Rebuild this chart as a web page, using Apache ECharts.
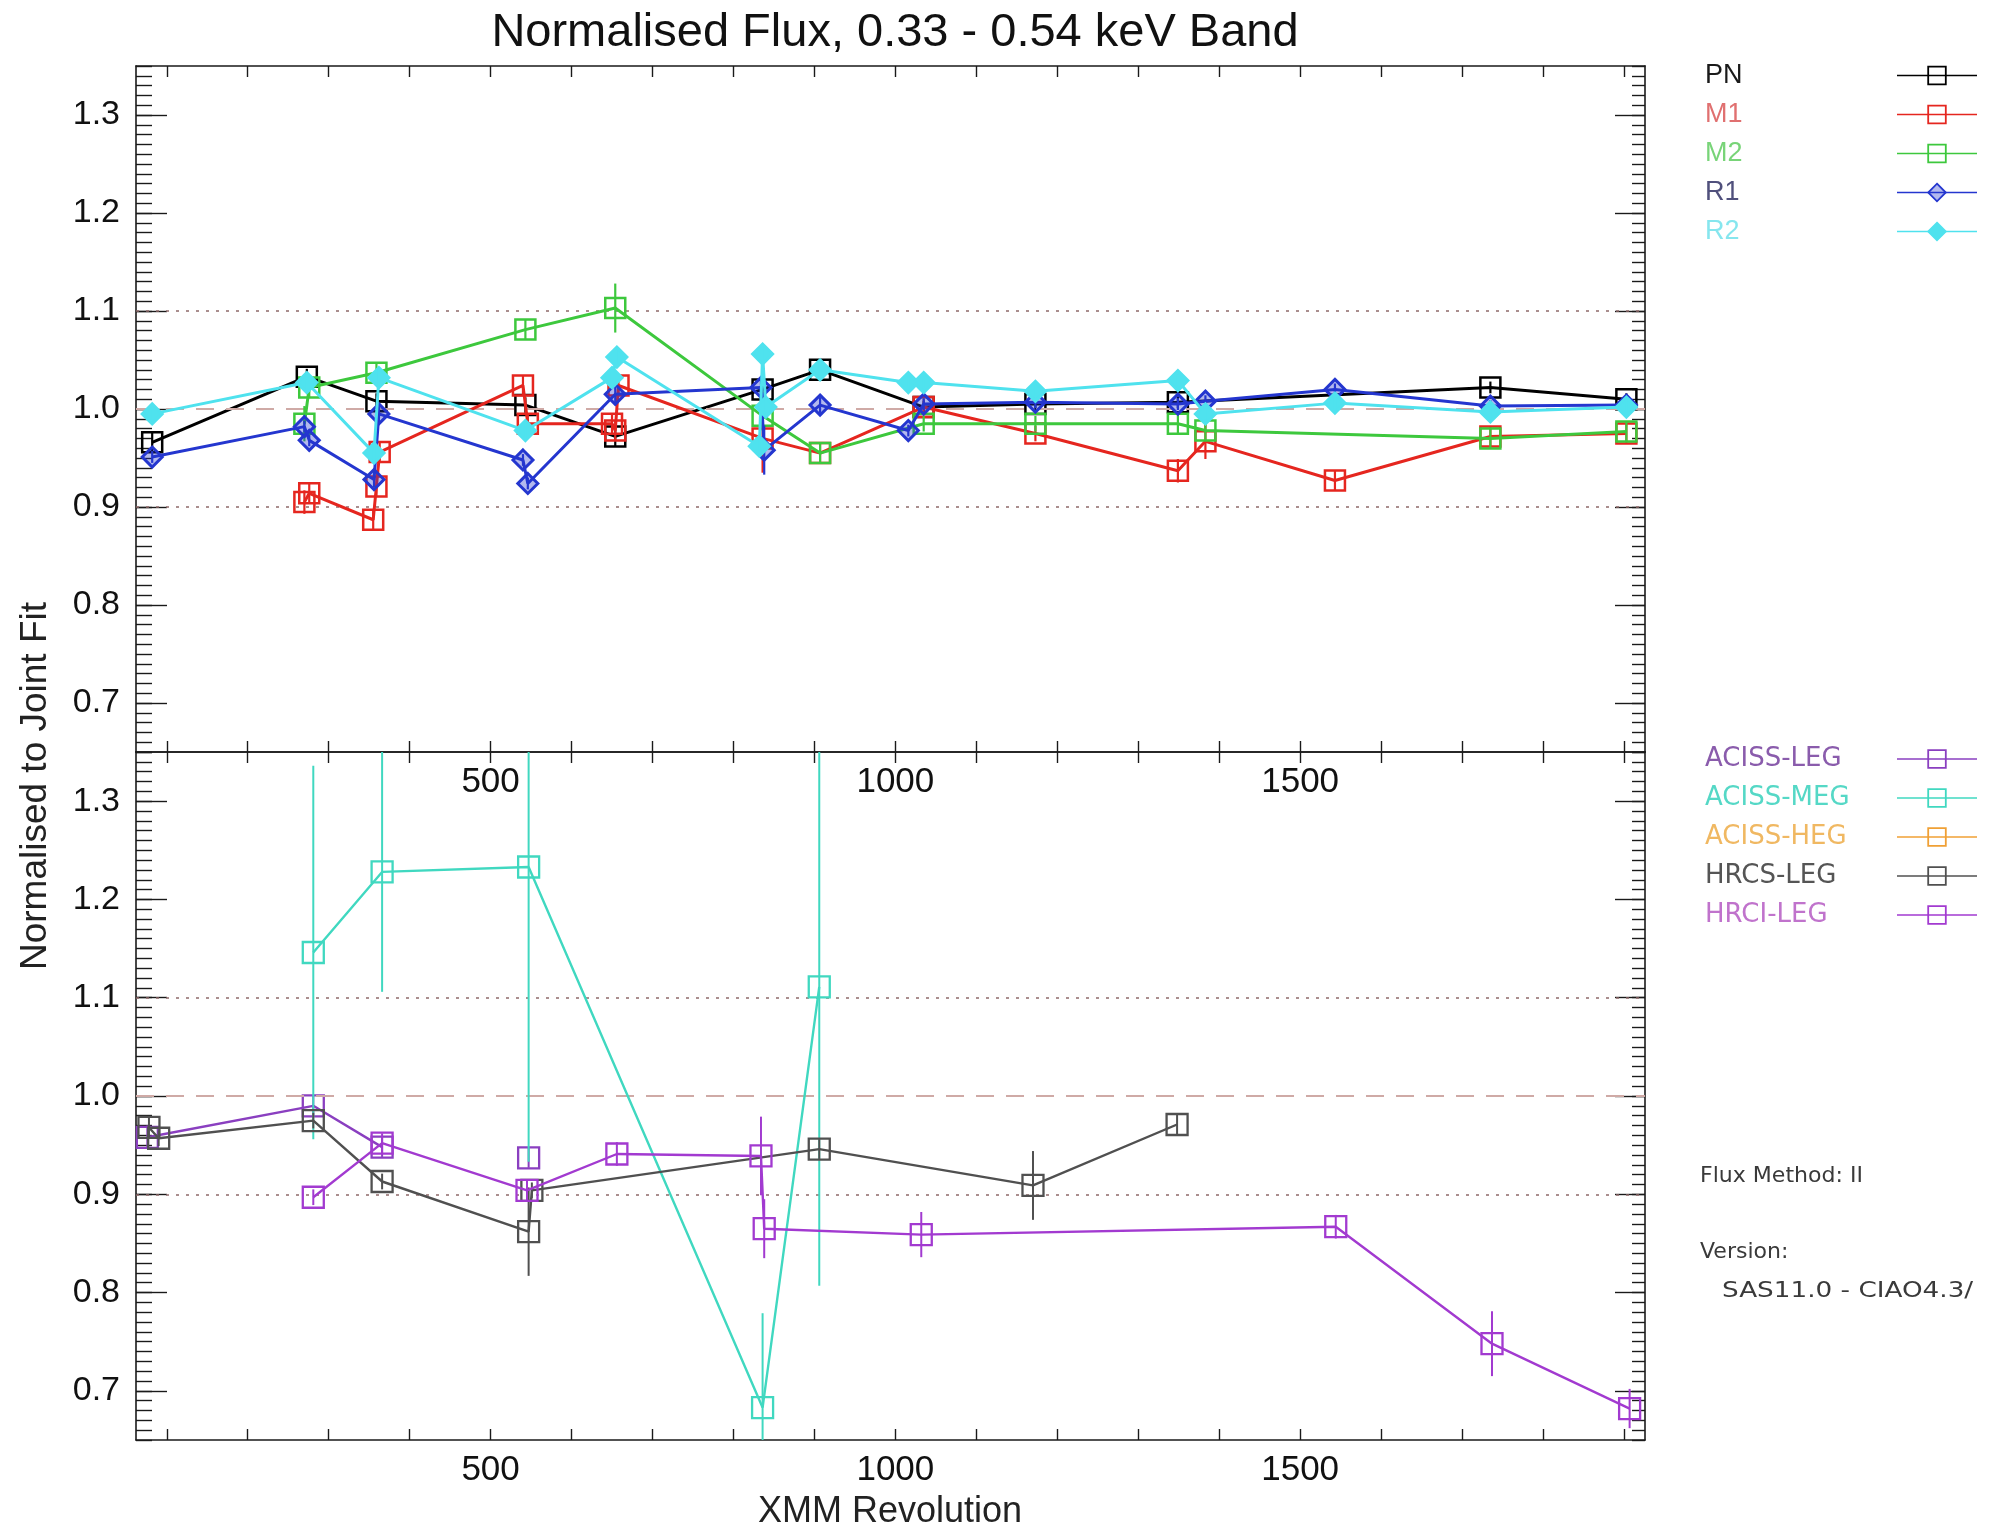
<!DOCTYPE html>
<html>
<head>
<meta charset="utf-8">
<script src="https://cdn.jsdelivr.net/npm/echarts@6/dist/echarts.min.js"></script>
<style>
  html, body { margin: 0; padding: 0; background: #ffffff; }
  #chart { width: 2009px; height: 1531px; }
</style>
</head>
<body>
<div id="chart"></div>
<script>
// Axis extents shared by both panels
const revRange = [62, 1926];
const fluxRange = [0.65, 1.35];
const xTickLabels = [500, 1000, 1500];
const yTickLabels = [0.7, 0.8, 0.9, 1.0, 1.1, 1.2, 1.3];
const refLevels = [0.9, 1.0, 1.1];

// XMM-Newton instruments (upper panel): revolution, normalised flux, 1-sigma error
const pnRev  = [82, 273, 359, 543, 654, 836, 907, 1035, 1173, 1349, 1735, 1903];
const pnFlux = [0.966, 1.033, 1.008, 1.004, 0.972, 1.020, 1.040, 1.002, 1.005, 1.007, 1.022, 1.010];
const pnErr  = [0.010, 0.008, 0.008, 0.008, 0.010, 0.010, 0.008, 0.006, 0.006, 0.006, 0.006, 0.006];

const m1Rev  = [270, 276, 355, 359, 363, 540, 546, 650, 654, 658, 836, 907, 1035, 1173, 1349, 1383, 1543, 1735, 1903];
const m1Flux = [0.905, 0.914, 0.887, 0.921, 0.956, 1.024, 0.985, 0.985, 0.978, 1.024, 0.970, 0.955, 1.002, 0.975, 0.937, 0.967, 0.927, 0.972, 0.975];
const m1Err  = [0.012, 0.010, 0.010, 0.010, 0.010, 0.010, 0.010, 0.010, 0.010, 0.010, 0.035, 0.010, 0.008, 0.008, 0.012, 0.018, 0.010, 0.010, 0.010];

const m2Rev  = [270, 276, 359, 543, 654, 836, 907, 1035, 1173, 1349, 1383, 1735, 1903];
const m2Flux = [0.985, 1.022, 1.037, 1.081, 1.103, 0.993, 0.955, 0.985, 0.985, 0.985, 0.978, 0.970, 0.977];
const m2Err  = [0.018, 0.010, 0.010, 0.010, 0.025, 0.015, 0.010, 0.008, 0.008, 0.010, 0.010, 0.010, 0.010];

const r1Rev  = [82, 270, 276, 356, 362, 540, 546, 654, 834, 838, 907, 1016, 1035, 1173, 1349, 1383, 1543, 1735, 1903];
const r1Flux = [0.951, 0.982, 0.968, 0.928, 0.995, 0.948, 0.924, 1.015, 1.022, 0.958, 1.004, 0.978, 1.005, 1.007, 1.005, 1.008, 1.020, 1.003, 1.004];
const r1Err  = [0.006, 0.006, 0.006, 0.008, 0.008, 0.006, 0.006, 0.008, 0.010, 0.025, 0.008, 0.006, 0.006, 0.006, 0.006, 0.006, 0.006, 0.006, 0.006];

const r2Rev  = [82, 273, 356, 362, 543, 650, 656, 832, 836, 840, 907, 1016, 1035, 1173, 1349, 1383, 1543, 1735, 1903];
const r2Flux = [0.995, 1.027, 0.955, 1.032, 0.978, 1.032, 1.053, 0.962, 1.056, 1.002, 1.040, 1.027, 1.027, 1.018, 1.029, 0.995, 1.006, 0.997, 1.002];
const r2Err  = [0.008, 0.008, 0.010, 0.010, 0.010, 0.008, 0.008, 0.010, 0.010, 0.010, 0.008, 0.006, 0.006, 0.006, 0.006, 0.006, 0.006, 0.006, 0.006];

// Chandra gratings (lower panel); null marks a break in the joined line
const aLegRev  = [76, 281, 366, 456, 547];
const aLegFlux = [0.958, 0.990, 0.948, null, 0.937];
const aLegErr  = [0.012, 0.010, 0.010, null, 0.010];

const aMegRev  = [281, 366, 547, 836, 906];
const aMegFlux = [1.146, 1.228, 1.233, 0.683, 1.111];
const aMegErr  = [0.190, 0.122, 0.300, 0.096, 0.304];

const aHegRev  = [];
const aHegFlux = [];
const aHegErr  = [];

const hsRev  = [78, 90, 281, 366, 547, 551, 906, 1170, 1348];
const hsFlux = [0.968, 0.957, 0.975, 0.913, 0.862, 0.904, 0.946, 0.909, 0.971];
const hsErr  = [0.010, 0.008, 0.008, 0.008, 0.045, 0.008, 0.010, 0.035, 0.010];

const hiRev  = [281, 366, 545, 656, 834, 838, 1032, 1544, 1737, 1907];
const hiFlux = [0.897, 0.952, 0.904, 0.941, 0.939, 0.865, 0.859, 0.867, 0.748, 0.682];
const hiErr  = [0.008, 0.010, 0.010, 0.012, 0.040, 0.030, 0.023, 0.012, 0.033, 0.020];

const upperNames = ['PN', 'M1', 'M2', 'R1', 'R2'];
const lowerNames = ['ACISS-LEG', 'ACISS-MEG', 'ACISS-HEG', 'HRCS-LEG', 'HRCI-LEG'];

const noteLines = ['Flux Method: II', 'Version:', 'SAS11.0 - CIAO4.3/'];

// ---- styling ----
const FONT = "'Liberation Sans', Arial, Helvetica, sans-serif";
const STROKE_FONT = "'DejaVu Sans', 'Liberation Sans', sans-serif";
const FRAME = '#1a1a1a';

const upperStyle = [
  { rev: pnRev, flux: pnFlux, err: pnErr, color: '#000000', text: '#1a1a1a', symbol: 'rect',    fill: 'rgba(0,0,0,0)' },
  { rev: m1Rev, flux: m1Flux, err: m1Err, color: '#e5261f', text: '#e07070', symbol: 'rect',    fill: 'rgba(0,0,0,0)' },
  { rev: m2Rev, flux: m2Flux, err: m2Err, color: '#3dc83d', text: '#78d478', symbol: 'rect',    fill: 'rgba(0,0,0,0)' },
  { rev: r1Rev, flux: r1Flux, err: r1Err, color: '#2436cf', text: '#50507c', symbol: 'diamond', fill: 'rgba(36,54,207,0.35)' },
  { rev: r2Rev, flux: r2Flux, err: r2Err, color: '#4fe2ee', text: '#86e6ee', symbol: 'diamond', fill: '#4fe2ee' }
];
const lowerStyle = [
  { rev: aLegRev, flux: aLegFlux, err: aLegErr, color: '#8a3fc0', text: '#8a5cac' },
  { rev: aMegRev, flux: aMegFlux, err: aMegErr, color: '#40d8c0', text: '#55d8c6' },
  { rev: aHegRev, flux: aHegFlux, err: aHegErr, color: '#f0a035', text: '#f0b862' },
  { rev: hsRev,   flux: hsFlux,   err: hsErr,   color: '#505050', text: '#555555' },
  { rev: hiRev,   flux: hiFlux,   err: hiErr,   color: '#a23ad0', text: '#c073cc' }
];

// tick positions (decoration only)
const xTickRevs = [];
for (let v = 100; v <= 1900; v += 100) xTickRevs.push(v);
const yMinorTicks = [];
for (let k = 65; k <= 135; k++) yMinorTicks.push(k / 100);

function xAxesFor(grid) {
  const line = { show: true, onZero: false, lineStyle: { color: FRAME, width: 1.6 } };
  const tick = { show: true, inside: true, length: 11, customValues: xTickRevs, lineStyle: { color: FRAME, width: 1.4 } };
  const base = { type: 'value', gridIndex: grid, min: revRange[0], max: revRange[1], splitLine: { show: false }, axisLine: line, axisTick: tick };
  return [
    Object.assign({}, base, {
      position: 'bottom',
      axisLabel: { show: true, customValues: xTickLabels, formatter: v => String(v), margin: 13, fontSize: 35, color: '#111', fontFamily: FONT }
    }),
    Object.assign({}, base, { position: 'top', axisLabel: { show: false } })
  ];
}

function yAxesFor(grid) {
  const line = { show: true, onZero: false, lineStyle: { color: FRAME, width: 1.6 } };
  const tickStyle = { color: FRAME, width: 1.4 };
  const base = { type: 'value', gridIndex: grid, min: fluxRange[0], max: fluxRange[1], splitLine: { show: false } };
  return [
    Object.assign({}, base, {
      position: 'left', axisLine: line,
      axisTick: { show: true, inside: true, length: 31, customValues: yTickLabels, lineStyle: tickStyle },
      axisLabel: { show: true, customValues: yTickLabels, formatter: v => v.toFixed(1), margin: 16, fontSize: 34, color: '#111', fontFamily: FONT }
    }),
    Object.assign({}, base, {
      position: 'left', axisLine: { show: false },
      axisTick: { show: true, inside: true, length: 16, customValues: yMinorTicks, lineStyle: tickStyle },
      axisLabel: { show: false }
    }),
    Object.assign({}, base, {
      position: 'right', axisLine: line,
      axisTick: { show: true, inside: true, length: 30, customValues: yTickLabels, lineStyle: tickStyle },
      axisLabel: { show: false }
    }),
    Object.assign({}, base, {
      position: 'right', axisLine: { show: false },
      axisTick: { show: true, inside: true, length: 13, customValues: yMinorTicks, lineStyle: tickStyle },
      axisLabel: { show: false }
    })
  ];
}

function refLineSeries(xi, yi) {
  return {
    type: 'line', name: 'reference', xAxisIndex: xi, yAxisIndex: yi, data: [], silent: true, z: 1,
    markLine: {
      silent: true, symbol: 'none', label: { show: false }, animation: false,
      data: refLevels.map(v => ({
        yAxis: v,
        lineStyle: v === 1.0
          ? { color: '#cfaaa6', width: 2, type: [18, 12] }
          : { color: '#8e6a6a', width: 1.6, type: [3, 7] }
      }))
    }
  };
}

function dataSeries(name, s, xi, yi, opts) {
  const pts = s.rev.map((r, i) => [r, s.flux[i]]);
  const bars = s.rev.map((r, i) => [r, s.flux[i] == null ? null : s.flux[i] - s.err[i], s.flux[i] == null ? null : s.flux[i] + s.err[i]])
                    .filter(d => d[1] != null);
  const line = {
    type: 'line', name: name, xAxisIndex: xi, yAxisIndex: yi, data: pts,
    symbol: opts.symbol, symbolSize: opts.size, showAllSymbol: true, connectNulls: false,
    lineStyle: { color: s.color, width: opts.width },
    itemStyle: { color: opts.fill, borderColor: s.color, borderWidth: opts.border },
    emphasis: { disabled: true }, animation: false, z: opts.z
  };
  const err = {
    type: 'custom', name: name + ' error', xAxisIndex: xi, yAxisIndex: yi, data: bars,
    encode: { x: 0, y: [1, 2] }, clip: true, silent: true, animation: false, z: opts.z + 1,
    renderItem: (params, api) => {
      const a = api.coord([api.value(0), api.value(1)]);
      const b = api.coord([api.value(0), api.value(2)]);
      return { type: 'line', shape: { x1: a[0], y1: a[1], x2: b[0], y2: b[1] },
               style: { stroke: s.color, lineWidth: opts.errWidth } };
    }
  };
  return [line, err];
}

const series = [refLineSeries(0, 0), refLineSeries(2, 4)];
upperStyle.forEach((s, i) => {
  series.push(...dataSeries(upperNames[i], s, 0, 0, {
    symbol: s.symbol, fill: s.fill, size: 20, width: 3, border: s.symbol === 'diamond' ? 3 : 2.5, errWidth: 2.2, z: 3 + i * 2
  }));
});
lowerStyle.forEach((s, i) => {
  series.push(...dataSeries(lowerNames[i], s, 2, 4, {
    symbol: 'rect', fill: 'rgba(0,0,0,0)', size: 21, width: 2.4, border: 2.3, errWidth: 2, z: 3 + i * 2
  }));
});

// legend rows: fixed-width name box, then line + marker sample
function legendFor(names, styles, top, gap, fontSize, family) {
  return {
    orient: 'vertical', left: 1700, top: top, align: 'right',
    itemWidth: 80, itemHeight: 22, itemGap: gap, selectedMode: false,
    lineStyle: { width: 1.6 }, itemStyle: { borderWidth: 1.8 },
    formatter: '{t|{name}}',
    textStyle: {
      fontSize: fontSize, fontFamily: family,
      rich: { t: { width: 187, align: 'left', fontSize: fontSize, fontFamily: family } }
    },
    data: names.map((n, i) => ({ name: n, textStyle: { color: styles[i].text } }))
  };
}

const option = {
  backgroundColor: '#ffffff',
  animation: false,
  title: {
    text: 'Normalised Flux, 0.33 - 0.54 keV Band',
    left: 890, top: 5, textAlign: 'center',
    textStyle: { fontSize: 47, fontWeight: 'normal', color: '#111', fontFamily: FONT }
  },
  grid: [
    { left: 136, top: 66, width: 1509, height: 686 },
    { left: 136, top: 752, width: 1509, height: 688 }
  ],
  xAxis: [...xAxesFor(0), ...xAxesFor(1)],
  yAxis: [...yAxesFor(0), ...yAxesFor(1)],
  legend: [
    legendFor(upperNames, upperStyle, 57, 12, 27, FONT),
    legendFor(lowerNames, lowerStyle, 741, 13, 26, STROKE_FONT)
  ],
  graphic: [
    { type: 'text', x: 36, y: 786, rotation: Math.PI / 2,
      style: { text: 'Normalised to Joint Fit', fontSize: 37, fontFamily: FONT, fill: '#222',
               align: 'center', verticalAlign: 'middle', textAlign: 'center', textVerticalAlign: 'middle' } },
    { type: 'text', x: 890, y: 1512,
      style: { text: 'XMM Revolution', fontSize: 36, fontFamily: FONT, fill: '#222',
               align: 'center', verticalAlign: 'middle', textAlign: 'center', textVerticalAlign: 'middle' } },
    ...noteLines.map((t, i) => ({
      type: 'text', x: i === 2 ? 1722 : 1700, y: [1177, 1253, 1292][i], scaleX: i === 2 ? 1.25 : 1.05,
      style: { text: t, fontSize: 21, fontFamily: STROKE_FONT, fill: '#3a3a3a',
               align: 'left', verticalAlign: 'middle', textAlign: 'left', textVerticalAlign: 'middle' }
    }))
  ],
  series: series
};

const chart = echarts.init(document.getElementById('chart'), null, { renderer: 'canvas' });
chart.setOption(option);
</script>
</body>
</html>
